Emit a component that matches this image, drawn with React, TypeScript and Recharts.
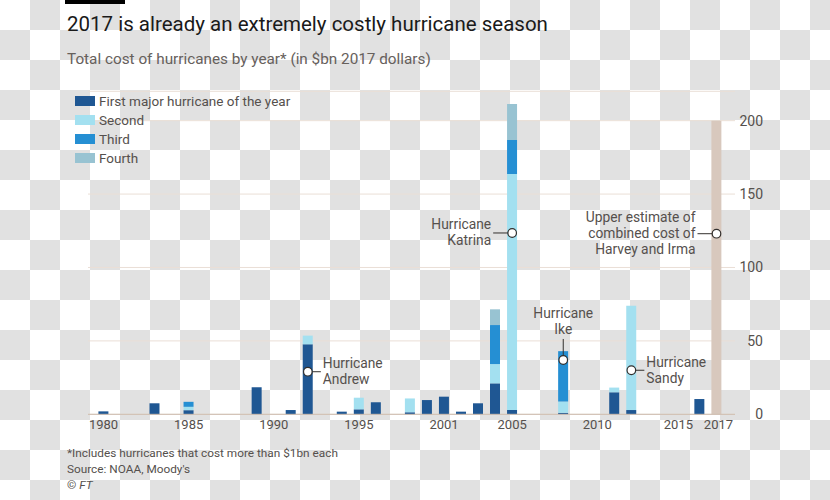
import React from 'react';
import { BarChart, Bar, XAxis, YAxis, CartesianGrid, ReferenceDot } from 'recharts';

// one slot per year; 2000 does not appear on the original axis
const years = [
  '1980', '1981', '1982', '1983', '1984', '1985', '1986', '1987', '1988', '1989',
  '1990', '1991', '1992', '1993', '1994', '1995', '1996', '1997', '1998', '1999',
  '2001', '2002', '2003', '2004', '2005', '2006', '2007', '2008', '2009', '2010',
  '2011', '2012', '2013', '2014', '2015', '2016', '2017',
];

// $bn, 2017 dollars
const firstMajor = [
  2, 0, 0, 7.5, 0, 2.8, 0, 0, 0, 18.4,
  0, 2.9, 47.7, 0, 1.8, 3.4, 8.2, 0, 1.4, 9.7,
  12, 1.8, 7.5, 21.1, 2.9, 0, 0, 1.0, 0, 0,
  15, 2.9, 0, 0, 0, 10.4, 0,
];
const secondMajor = [
  0, 0, 0, 0, 0, 2.3, 0, 0, 0, 0,
  0, 0, 5.9, 0, 0, 7.9, 0, 0, 9.4, 0,
  0, 0, 0, 13.1, 160.8, 0, 0, 7.7, 0, 0,
  3.2, 71, 0, 0, 0, 0, 0,
];
const thirdMajor = [
  0, 0, 0, 0, 0, 3.4, 0, 0, 0, 0,
  0, 0, 0, 0, 0, 0, 0, 0, 0, 0,
  0, 0, 0, 26.6, 23.2, 0, 0, 34.3, 0, 0,
  0, 0, 0, 0, 0, 0, 0,
];
const fourthMajor = [
  0, 0, 0, 0, 0, 0, 0, 0, 0, 0,
  0, 0, 0, 0, 0, 0, 0, 0, 0, 0,
  0, 0, 0, 10.7, 24.5, 0, 0, 0, 0, 0,
  0, 0, 0, 0, 0, 0, 0,
];
const upperEstimate = [
  0, 0, 0, 0, 0, 0, 0, 0, 0, 0,
  0, 0, 0, 0, 0, 0, 0, 0, 0, 0,
  0, 0, 0, 0, 0, 0, 0, 0, 0, 0,
  0, 0, 0, 0, 0, 0, 200,
];

const labelledYears = ['1980', '1985', '1990', '1995', '2001', '2005', '2010', '2015', '2017'];
const yTicks = [0, 50, 100, 150, 200];

const series = [
  { key: 'first', name: 'First major hurricane of the year', color: '#1f5793' },
  { key: 'second', name: 'Second', color: '#a3e0f0' },
  { key: 'third', name: 'Third', color: '#258fd3' },
  { key: 'fourth', name: 'Fourth', color: '#98c3d2' },
];

const annotations = [
  { year: '1992', value: 29, side: 'right', lines: ['Hurricane', 'Andrew'] },
  { year: '2005', value: 123.5, side: 'left', lines: ['Hurricane', 'Katrina'] },
  { year: '2008', value: 37, side: 'top', lines: ['Hurricane', 'Ike'] },
  { year: '2012', value: 30, side: 'right', lines: ['Hurricane', 'Sandy'] },
  { year: '2017', value: 123, side: 'left', lines: ['Upper estimate of', 'combined cost of', 'Harvey and Irma'] },
];

const data = years.map((year, i) => ({
  year,
  first: firstMajor[i],
  second: secondMajor[i],
  third: thirdMajor[i],
  fourth: fourthMajor[i],
  estimate: upperEstimate[i],
}));

const FONT = 'Roboto, sans-serif';
const TEXT = '#55504d';
const INK = '#33302e';

const XTick = (props: any) => {
  const { x, y, payload } = props;
  if (!labelledYears.includes(payload.value)) return null;
  // 2015 and 2017 sit close together, nudge them apart like the original
  const dx = payload.value === '2015' ? -4 : payload.value === '2017' ? 2 : 0;
  return (
    <text x={x + dx} y={y + 14.5} textAnchor="middle" fontSize={13} fill={TEXT} fontFamily={FONT}>
      {payload.value}
    </text>
  );
};

const YTick = (props: any) => {
  const { x, y, payload } = props;
  return (
    <text x={x + 28} y={y + 5} textAnchor="end" fontSize={14} fill={TEXT} fontFamily={FONT}>
      {payload.value}
    </text>
  );
};

const makeNote = (note: (typeof annotations)[number]) => (props: any) => {
  const { cx, cy } = props;
  const n = note.lines.length;
  let line = null;
  let tx = cx;
  let anchor: 'start' | 'end' | 'middle' = 'middle';
  let ty0 = cy - ((n - 1) * 16) / 2;
  if (note.side === 'left') {
    line = <line x1={cx - 19} y1={cy} x2={cx - 4} y2={cy} stroke={INK} strokeWidth={1} />;
    tx = cx - 21;
    anchor = 'end';
  } else if (note.side === 'right') {
    line = <line x1={cx + 4} y1={cy} x2={cx + 13} y2={cy} stroke={INK} strokeWidth={1} />;
    tx = cx + 15;
    anchor = 'start';
  } else {
    line = <line x1={cx} y1={cy - 4} x2={cx} y2={cy - 21} stroke={INK} strokeWidth={1} />;
    ty0 = cy - 46;
  }
  return (
    <g>
      {line}
      <circle cx={cx} cy={cy} r={4.3} fill="#fff" stroke={INK} strokeWidth={1.2} />
      {note.lines.map((t, k) => (
        <text
          key={k}
          x={tx}
          y={ty0 + k * 16 + 4.5}
          textAnchor={anchor}
          fontSize={13.8}
          fill={TEXT}
          fontFamily={FONT}
        >
          {t}
        </text>
      ))}
    </g>
  );
};

export default function App() {
  return (
    <div
      style={{
        position: 'relative',
        width: 830,
        height: 500,
        overflow: 'hidden',
        backgroundColor: '#fff',
        backgroundImage: 'conic-gradient(#e1e1e1 25%, #fff 0 50%, #e1e1e1 0 75%, #fff 0)',
        backgroundSize: '60px 60px',
        fontFamily: FONT,
      }}
    >
      <style>{'body{margin:0}'}</style>
      <div style={{ position: 'absolute', left: 65, top: 0, width: 60, height: 4, background: '#000' }} />
      <div style={{ position: 'absolute', left: 67, top: 11, fontSize: 20.5, lineHeight: '26px', color: '#1a1a1a' }}>
        2017 is already an extremely costly hurricane season
      </div>
      <div style={{ position: 'absolute', left: 67, top: 49, fontSize: 15.3, lineHeight: '20px', color: '#66605c' }}>
        Total cost of hurricanes by year* (in $bn 2017 dollars)
      </div>

      <div style={{ position: 'absolute', left: 0, top: 0 }}>
        <BarChart
          width={830}
          height={500}
          data={data}
          margin={{ top: 91.3, right: 55, bottom: 55.7, left: 88 }}
          barCategoryGap="20%"
        >
          <CartesianGrid vertical={false} stroke="#eadfd6" />
          <XAxis
            dataKey="year"
            interval={0}
            tickLine={false}
            tickSize={0}
            tickMargin={0}
            height={30}
            padding={{ left: 7, right: 10 }}
            axisLine={{ stroke: '#cdbcae' }}
            tick={<XTick />}
          />
          <YAxis
            orientation="right"
            domain={[0, 220]}
            ticks={yTicks}
            axisLine={false}
            tickLine={false}
            tickSize={0}
            tickMargin={0}
            width={40}
            tick={<YTick />}
          />
          {series.map((s) => (
            <Bar key={s.key} dataKey={s.key} name={s.name} stackId="a" fill={s.color} isAnimationActive={false} />
          ))}
          <Bar dataKey="estimate" name="Upper estimate" stackId="a" fill="#d8c8bd" isAnimationActive={false} />
          {annotations.map((note) => (
            <ReferenceDot key={note.year} x={note.year} y={note.value} ifOverflow="visible" shape={makeNote(note)} />
          ))}
        </BarChart>
      </div>

      <div style={{ position: 'absolute', left: 75, top: 91.5 }}>
        {series.map((s) => (
          <div key={s.key} style={{ display: 'flex', alignItems: 'center', height: 19 }}>
            <span style={{ width: 20, height: 10, background: s.color, marginRight: 4 }} />
            <span style={{ fontSize: 13.5, color: TEXT }}>{s.name}</span>
          </div>
        ))}
      </div>

      <div style={{ position: 'absolute', left: 67, top: 445, fontSize: 11.8, lineHeight: '16px', color: TEXT }}>
        <div>*Includes hurricanes that cost more than $1bn each</div>
        <div>Source: NOAA, Moody's</div>
        <div>
          © <i>FT</i>
        </div>
      </div>
    </div>
  );
}
